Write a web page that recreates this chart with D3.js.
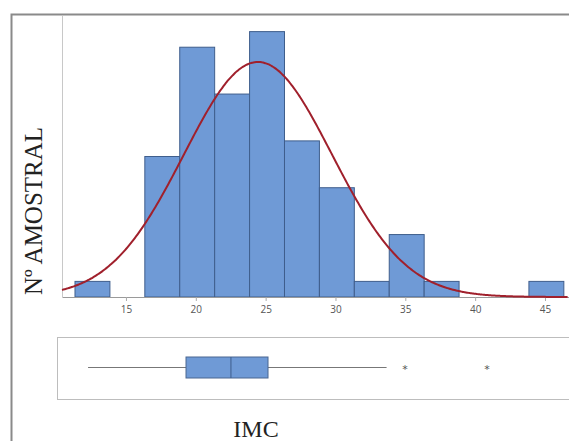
<!DOCTYPE html>
<html>
<head>
<meta charset="utf-8">
<script src="https://cdn.jsdelivr.net/npm/d3@7"></script>
<style>
  body { margin: 0; background: #fff; }
  svg { display: block; }
</style>
</head>
<body>
<svg id="chart" width="569" height="441"></svg>
<script>
// histogram bins (IMC) and counts
const binEdges = [11.35, 13.85, 16.35, 18.85, 21.35, 23.85, 26.35, 28.85, 31.35, 33.85, 36.35, 38.85, 41.35, 43.85, 46.35]
const counts = [1, 0, 9, 16, 13, 17, 10, 7, 1, 4, 1, 0, 0, 1]
const xTicks = [15, 20, 25, 30, 35, 40, 45]

// fitted normal
const fitMean = 24.45
const fitSd = 5.3
const fitN = 80

// boxplot summary
const boxStats = { low: 12.5, q1: 20.48, median: 24.14, q3: 27.16, high: 36.82 }
const outliers = [38.32, 45.0]

const svg = d3.select('#chart')

// outer frame
svg.append('path')
  .attr('d', 'M11.5,441 L11.5,14.5 L569,14.5')
  .style('fill', 'none')
  .style('stroke', '#8a8a8a')
  .style('stroke-width', 2)

const x = d3.scaleLinear().domain([10.42, 46.72]).range([62, 569])
const y = d3.scaleLinear().domain([0, 18]).range([297, 16])

// plot area left edge
svg.append('line')
  .attr('x1', 62.5).attr('x2', 62.5)
  .attr('y1', 16).attr('y2', 297)
  .style('stroke', '#c8c8c8')

let bars = binEdges.slice(0, -1).map((e, i) => ({ x0: e, x1: binEdges[i + 1], n: counts[i] }))

svg.append('g')
  .selectAll('rect').data(bars.filter(d => d.n > 0))
  .enter().append('rect')
    .attr('x', d => x(d.x0))
    .attr('y', d => y(d.n))
    .attr('width', d => x(d.x1) - x(d.x0))
    .attr('height', d => y(0) - y(d.n))
    .style('fill', '#6f9ad6')
    .style('stroke', '#3f5e8c')
    .style('stroke-width', 1)

// x axis
let xAxis = svg.append('g')
  .attr('transform', `translate(0,${ y(0) })`)
  .call(d3.axisBottom(x).tickValues(xTicks).tickSize(4).tickSizeOuter(0))
xAxis.select('.domain').style('stroke', '#9a9a9a')
xAxis.selectAll('.tick line').style('stroke', '#aaa')
xAxis.selectAll('text')
  .attr('dy', '0.85em')
  .style('font-family', '"Open Sans", sans-serif')
  .style('font-size', '10px')
  .style('fill', '#555')

// normal curve
let curvePts = d3.range(10.42, 46.72, 0.1).map(v => {
  let z = (v - fitMean) / fitSd
  let binW = binEdges[1] - binEdges[0]
  return [v, fitN * binW * Math.exp(-0.5 * z * z) / (fitSd * Math.sqrt(2 * Math.PI))]
})
svg.append('path')
  .datum(curvePts)
  .attr('d', d3.line().x(d => x(d[0])).y(d => y(d[1])).curve(d3.curveBasis))
  .style('fill', 'none')
  .style('stroke', '#a0202c')
  .style('stroke-width', 2)

// y label
svg.append('text')
  .attr('transform', 'translate(42,211) rotate(-90)')
  .attr('text-anchor', 'middle')
  .style('font-family', '"Liberation Serif", serif')
  .style('font-size', '25px')
  .style('fill', '#222')
  .text('Nº AMOSTRAL')

// boxplot panel
const xb = d3.scaleLinear().domain([9.97, 51.68]).range([57, 569])
const by = 367.5

svg.append('rect')
  .attr('x', 57.5).attr('y', 337.5)
  .attr('width', 520).attr('height', 62)
  .style('fill', 'none')
  .style('stroke', '#bdbdbd')

let box = svg.append('g')
box.append('line')
  .attr('x1', xb(boxStats.low)).attr('x2', xb(boxStats.high))
  .attr('y1', by).attr('y2', by)
  .style('stroke', '#777')
box.append('rect')
  .attr('x', xb(boxStats.q1)).attr('y', 357)
  .attr('width', xb(boxStats.q3) - xb(boxStats.q1)).attr('height', 21)
  .style('fill', '#6f9ad6')
  .style('stroke', '#4a6791')
box.append('line')
  .attr('x1', xb(boxStats.median)).attr('x2', xb(boxStats.median))
  .attr('y1', 357).attr('y2', 378)
  .style('stroke', '#3f5e8c')

box.selectAll('text.out').data(outliers)
  .enter().append('text')
    .attr('class', 'out')
    .attr('x', d => xb(d))
    .attr('y', by + 5)
    .attr('text-anchor', 'middle')
    .style('font-family', '"DejaVu Sans", sans-serif')
    .style('font-size', '11px')
    .style('fill', '#555')
    .text('*')

// x label
svg.append('text')
  .attr('x', 256).attr('y', 437)
  .attr('text-anchor', 'middle')
  .style('font-family', '"Liberation Serif", serif')
  .style('font-size', '24px')
  .style('fill', '#222')
  .text('IMC')
</script>
</body>
</html>
